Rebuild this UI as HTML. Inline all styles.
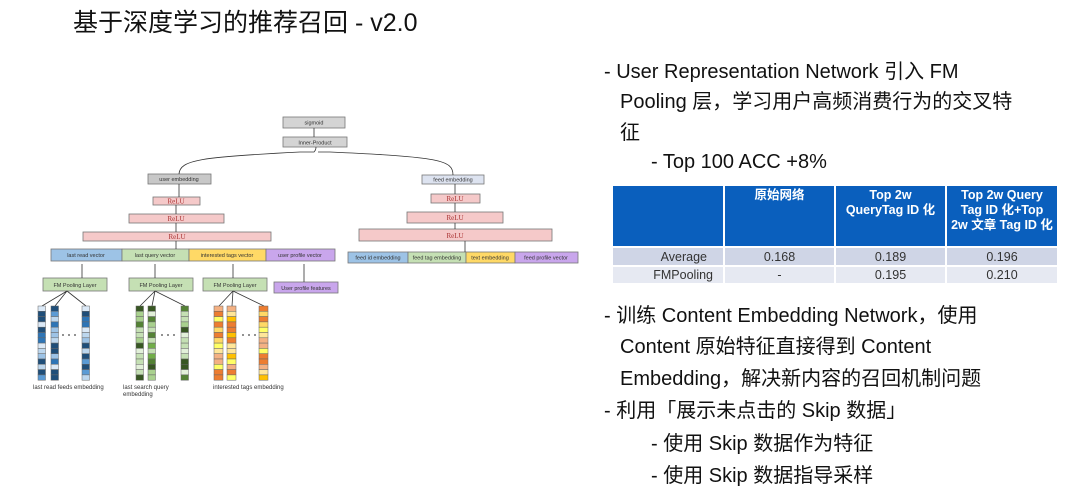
<!DOCTYPE html>
<html><head><meta charset="utf-8"><style>
body{margin:0;width:1080px;height:494px;background:#fff;overflow:hidden;position:relative;font-family:"Liberation Sans","Noto Sans CJK SC",sans-serif}
.t{position:absolute;font-size:20px;color:#111;white-space:nowrap;line-height:24px}
table{position:absolute;left:611px;top:184px;border-collapse:separate;border-spacing:2px;font-size:12.5px}
td{padding:0 4px}
.h td{background:#0a5fbd;color:#fff;font-weight:bold;text-align:center;vertical-align:top;height:58px;line-height:15px;padding-top:2px}
.r1 td{background:#cfd5e6;height:17px;text-align:center;color:#333}
.r2 td{background:#e6e9f2;height:16px;text-align:center;color:#333}
</style></head><body>
<div class="t" style="left:73px;top:8px;font-size:25px;line-height:30px">基于深度学习的推荐召回 - v2.0</div>
<svg style="position:absolute;left:0;top:0" width="600" height="494" font-family="Liberation Sans, sans-serif" font-size="5.5">
<g stroke="#777" stroke-width="0.8">
<rect x="283" y="117" width="62" height="11" fill="#d4d4d4"/>
<rect x="283" y="137" width="64" height="10" fill="#d4d4d4"/>
<rect x="148" y="174" width="63" height="10" fill="#c8c8c8"/>
<rect x="422" y="175" width="62" height="9" fill="#dde3f0"/>
<rect x="153" y="197" width="47" height="8" fill="#f5c9c9"/>
<rect x="129" y="214" width="95" height="9" fill="#f5c9c9"/>
<rect x="83" y="232" width="188" height="9" fill="#f5c9c9"/>
<rect x="431" y="194" width="49" height="9" fill="#f5c9c9"/>
<rect x="407" y="212" width="96" height="11" fill="#f5c9c9"/>
<rect x="359" y="229" width="193" height="12" fill="#f5c9c9"/>
<rect x="51" y="249" width="71" height="12" fill="#9dc3e6"/>
<rect x="122" y="249" width="67" height="12" fill="#c5e0b4"/>
<rect x="189" y="249" width="77" height="12" fill="#ffd966"/>
<rect x="266" y="249" width="69" height="12" fill="#c9a6ec"/>
<rect x="348" y="252" width="60" height="11" fill="#9dc3e6"/>
<rect x="408" y="252" width="58" height="11" fill="#c5e0b4"/>
<rect x="466" y="252" width="49" height="11" fill="#ffd966"/>
<rect x="515" y="252" width="63" height="11" fill="#c9a6ec"/>
<rect x="43" y="278" width="64" height="13" fill="#c5e0b4"/>
<rect x="129" y="278" width="64" height="13" fill="#c5e0b4"/>
<rect x="203" y="278" width="64" height="13" fill="#c5e0b4"/>
<rect x="274" y="282" width="64" height="11" fill="#c9a6ec"/>
</g>
<g fill="#333" text-anchor="middle">
<text x="314" y="124.5">sigmoid</text><text x="315" y="144.5">Inner-Product</text>
<text x="179" y="181">user embedding</text><text x="453" y="181.5">feed embedding</text>
<g font-family="Liberation Serif, serif" font-size="7" fill="#a33"><text x="176" y="203.5">ReLU</text><text x="176" y="221">ReLU</text><text x="177" y="239">ReLU</text>
<text x="455" y="201">ReLU</text><text x="455" y="220">ReLU</text><text x="455" y="238">ReLU</text></g>
<text x="86" y="257">last read vector</text><text x="155" y="257">last query vector</text><text x="227" y="257">interested tags vector</text><text x="300" y="257">user profile vector</text>
<text x="378" y="259.5">feed id embedding</text><text x="437" y="259.5">feed tag embedding</text><text x="490" y="259.5">text embedding</text><text x="546" y="259.5">feed profile vector</text>
<text x="75" y="287">FM Pooling Layer</text><text x="161" y="287">FM Pooling Layer</text><text x="235" y="287">FM Pooling Layer</text><text x="306" y="290">User profile features</text>
</g>
<g stroke="#333" stroke-width="0.8" fill="none">
<path d="M179 174 C180 160,200 157,300 152 L314 152 Q316 150 316 147"/>
<path d="M453 175 C453 160,440 157,330 152 L318 152"/>
<path d="M314 137 V128"/>
<path d="M179 197 V184 M176 214 V205 M176 232 V223 M176 249 V241"/>
<path d="M455 194 V184 M455 212 V203 M455 229 V223 M465 252 V241"/>
<path d="M82 278 V264 M155 278 V264 M233 278 V264 M304 282 V264"/>
<path d="M67 291 L42 306 M67 291 L55 306 M67 291 L86 306"/>
<path d="M155 291 L140 306 M155 291 L152 306 M155 291 L185 306"/>
<path d="M233 291 L219 306 M233 291 L232 306 M233 291 L264 306"/>
</g>
<g id="bars" stroke="#666" stroke-width="0.5">
</g>
<g fill="#444"><circle cx="63" cy="335" r="0.9"/><circle cx="69" cy="335" r="0.9"/><circle cx="75" cy="335" r="0.9"/>
<circle cx="162" cy="335" r="0.9"/><circle cx="168" cy="335" r="0.9"/><circle cx="174" cy="335" r="0.9"/>
<circle cx="243" cy="335" r="0.9"/><circle cx="249" cy="335" r="0.9"/><circle cx="255" cy="335" r="0.9"/></g>
<g fill="#333" font-size="6"><text x="33" y="389">last read feeds embedding</text><text x="123" y="389">last search query</text><text x="123" y="396">embedding</text><text x="213" y="389">interested tags embedding</text></g>
</svg>
<script>
(function(){var g=document.getElementById('bars');var ns='http://www.w3.org/2000/svg';
var sets=[[[38,51,82],['#dbe9f7','#2e75b6','#9dc3e6','#5b9bd5','#1f4e79','#bdd7ee']],
[[136,148,181],['#e2f0d9','#385723','#a9d18e','#70ad47','#c5e0b4','#548235']],
[[214,227,259],['#ffc000','#ffe699','#f4b183','#ffd966','#ed7d31','#ffff66']]];
var s=1;sets.forEach(function(st){st[0].forEach(function(x){for(var i=0;i<14;i++){s=(s*37+11)%101;var r=document.createElementNS(ns,'rect');r.setAttribute('x',x);r.setAttribute('y',306+i*5.3);r.setAttribute('width',st===sets[2]?9:7.5);r.setAttribute('height',5.3);r.setAttribute('fill',st[1][s%6]);g.appendChild(r);}});});})();
</script>
<div class="t" style="left:604px;top:60px">- User Representation Network 引入 FM</div>
<div class="t" style="left:620px;top:90px">Pooling 层，学习用户高频消费行为的交叉特</div>
<div class="t" style="left:620px;top:121px">征</div>
<div class="t" style="left:651px;top:150px">- Top 100 ACC +8%</div>
<table>
<tr class="h"><td style="width:102px"></td><td style="width:101px">原始网络</td><td style="width:101px">Top 2w QueryTag ID 化</td><td style="width:102px">Top 2w Query Tag ID 化+Top 2w 文章 Tag ID 化</td></tr>
<tr class="r1"><td style="text-align:right;padding-right:16px">Average</td><td>0.168</td><td>0.189</td><td>0.196</td></tr>
<tr class="r2"><td style="text-align:right;padding-right:10px">FMPooling</td><td>-</td><td>0.195</td><td>0.210</td></tr>
</table>
<div class="t" style="left:604px;top:304px">- 训练 Content Embedding Network，使用</div>
<div class="t" style="left:620px;top:335px">Content 原始特征直接得到 Content</div>
<div class="t" style="left:620px;top:367px">Embedding，解决新内容的召回机制问题</div>
<div class="t" style="left:604px;top:399px">- 利用「展示未点击的 Skip 数据」</div>
<div class="t" style="left:651px;top:432px">- 使用 Skip 数据作为特征</div>
<div class="t" style="left:651px;top:464px">- 使用 Skip 数据指导采样</div>
</body></html>
